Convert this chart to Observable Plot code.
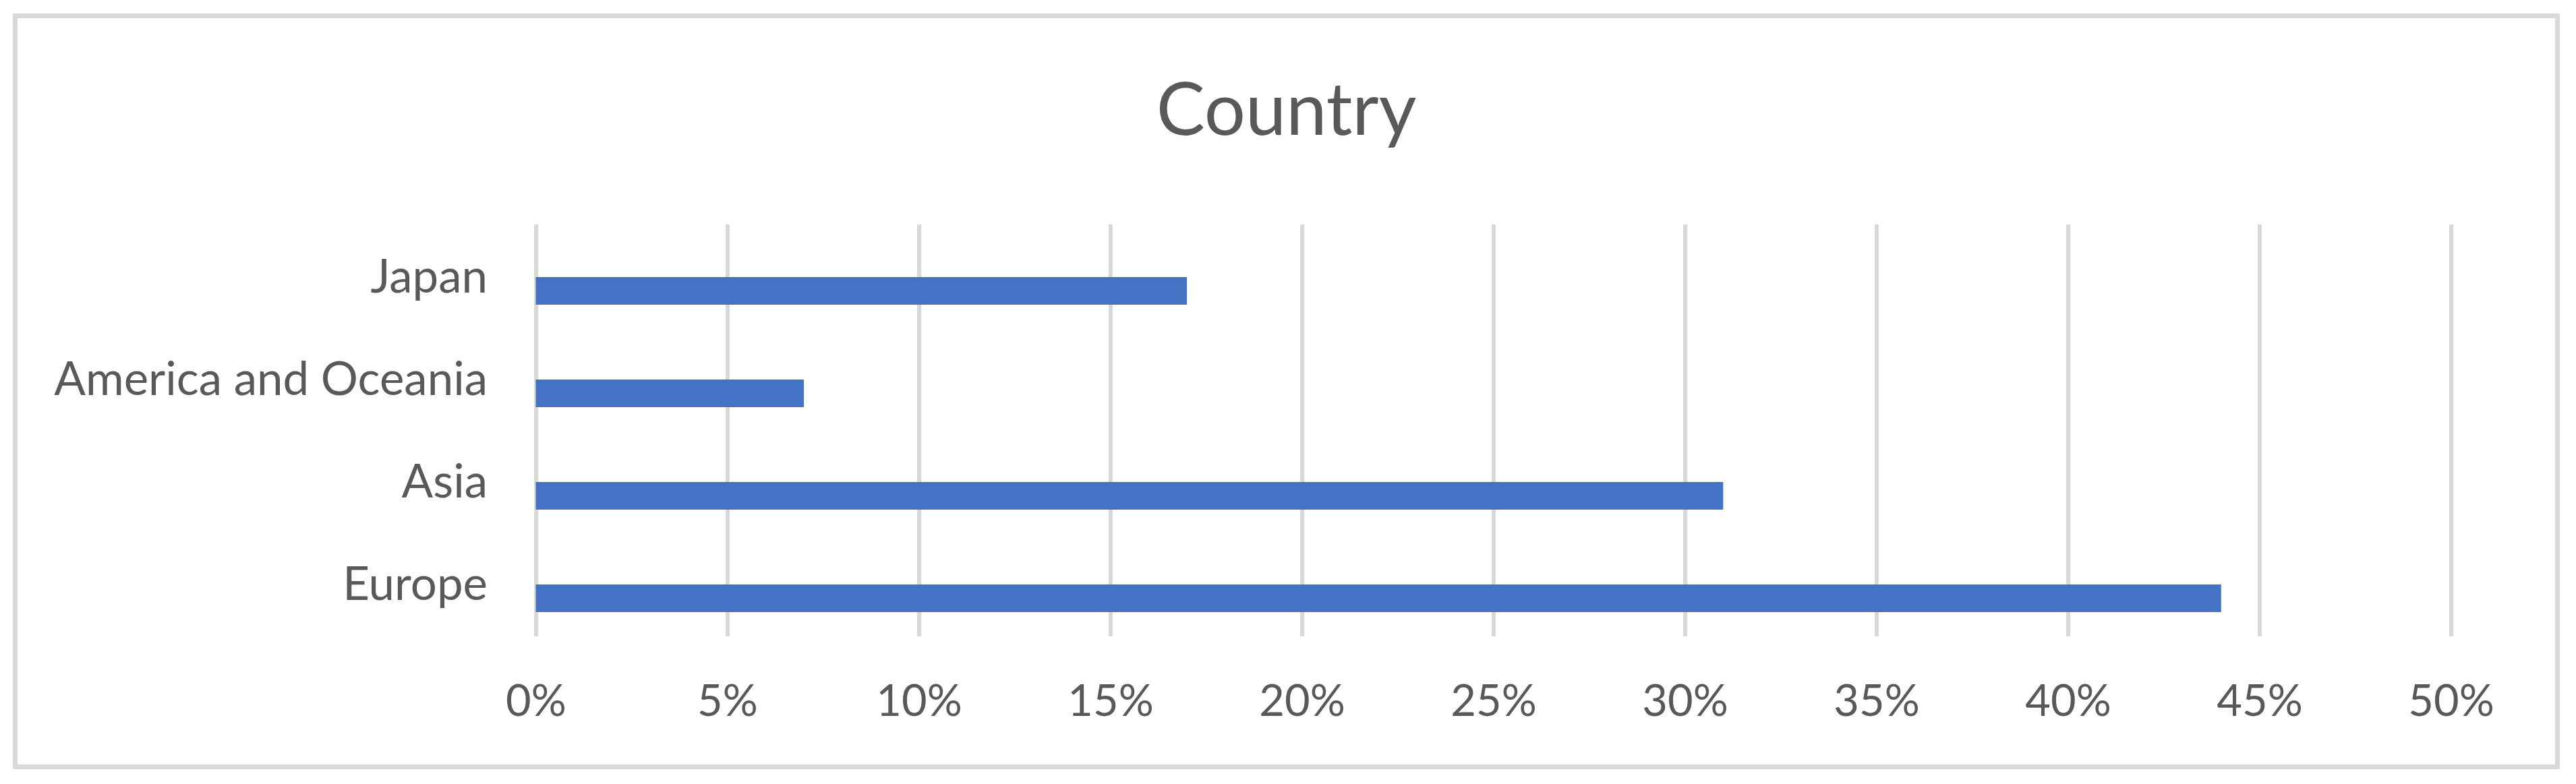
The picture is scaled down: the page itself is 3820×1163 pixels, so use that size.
<!DOCTYPE html>
<html>
<head>
<meta charset="utf-8">
<script src="https://cdn.jsdelivr.net/npm/d3@7"></script>
<script src="https://cdn.jsdelivr.net/npm/@observablehq/plot@0.6"></script>
<style>
  html, body { margin: 0; padding: 0; background: #ffffff; }
  body { width: 3820px; height: 1163px; position: relative; overflow: hidden; font-family: Lato, "Open Sans", sans-serif; }
  #frame { position: absolute; left: 19px; top: 20px; width: 3777px; height: 1121px; box-sizing: border-box; border: 7px solid #d9d9d9; }
  #title { position: absolute; left: 19px; width: 3777px; top: 104px; text-align: center; font-size: 108px; line-height: 108px; color: #595959; font-family: Lato, sans-serif; }
  #chart { position: absolute; left: 0; top: 0; }
</style>
</head>
<body>
<div id="frame"></div>
<div id="title">Country</div>
<div id="chart"></div>
<script>
const categories = ["Japan", "America and Oceania", "Asia", "Europe"];
const values = [0.17, 0.07, 0.31, 0.44];
const xTicks = [0, 0.05, 0.10, 0.15, 0.20, 0.25, 0.30, 0.35, 0.40, 0.45, 0.50];

const data = categories.map((c, i) => ({category: c, value: values[i]}));

const chart = Plot.plot({
  width: 3820,
  height: 1163,
  marginLeft: 794.5,
  marginRight: 185.5,
  marginTop: 333,
  marginBottom: 219,
  style: {background: "transparent", color: "#595959", fontFamily: "Lato, sans-serif", fontSize: "66px"},
  x: {domain: [0, 0.5], ticks: xTicks, tickFormat: d3.format(".0%")},
  y: {domain: categories, paddingInner: 0, paddingOuter: 0},
  marks: [
    Plot.ruleX(xTicks, {stroke: "#d9d9d9", strokeWidth: 6}),
    Plot.barX(data, {x: "value", y: "category", fill: "#4472c4", insetTop: 76, insetBottom: 35}),
    Plot.axisX({ticks: xTicks, tickFormat: d3.format(".0%"), tickSize: 0, tickPadding: 71, fontSize: 65, label: null}),
    Plot.axisY({tickSize: 0, tickPadding: 72, fontSize: 69, label: null})
  ]
});
document.getElementById("chart").appendChild(chart);
</script>
</body>
</html>
